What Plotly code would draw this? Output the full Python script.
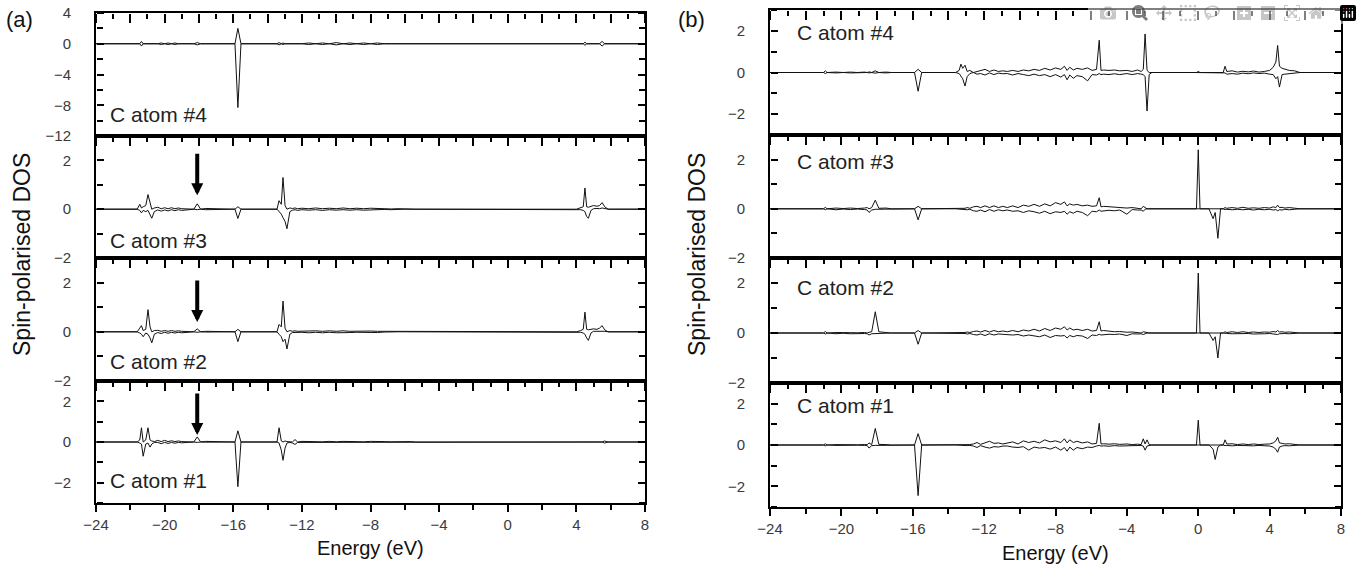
import plotly.graph_objects as go

# ---------------- data ----------------
# panel (a): shared energy grid, eV
energy_a = [-24, -21.6,
            -21.45, -21.35, -21.25, -21.1, -20.97, -20.85, -20.75, -20.6,
            -20.4, -20.2, -20.0, -19.8, -19.6, -19.4, -19.2, -19.0,
            -18.3, -18.1, -17.9, -17.6,
            -15.9, -15.73, -15.55,
            -13.45, -13.33, -13.2, -13.1, -12.98, -12.87, -12.7, -12.55, -12.4, -12.25,
            -12.0, -11.6, -11.2, -10.8, -10.4, -10.0, -9.6, -9.2, -8.8, -8.4, -8.0, -7.6, -7.2, -6.8, -6.4, -6.0, -5.6, -5.4,
            4.0, 4.25, 4.4, 4.5, 4.6, 4.7, 4.85, 5.0, 5.2, 5.35, 5.5, 5.65, 5.85,
            8]

a4_up = [0, 0,
         0, 0.3, 0, 0, 0, 0, 0, 0,
         0, 0.1, 0, 0.1, 0, 0.1, 0, 0,
         0, 0.15, 0, 0,
         0, 2.0, 0,
         0, 0.15, 0, 0.1, 0, 0, 0, 0, 0, 0,
         0, 0.1, 0, 0.1, 0, 0.15, 0, 0.1, 0, 0.1, 0, 0.1, 0, 0, 0, 0, 0, 0,
         0, 0, 0, 0.2, 0, 0, 0, 0, 0, 0, 0.3, 0, 0,
         0]
a4_dn = [0, 0,
         0, -0.3, 0, 0, 0, 0, 0, 0,
         0, -0.1, 0, -0.1, 0, -0.1, 0, 0,
         0, -0.15, 0, 0,
         0, -8.3, 0,
         0, -0.15, 0, -0.1, 0, 0, 0, 0, 0, 0,
         0, -0.1, 0, -0.1, 0, -0.15, 0, -0.1, 0, -0.1, 0, -0.1, 0, 0, 0, 0, 0, 0,
         0, 0, 0, -0.2, 0, 0, 0, 0, 0, 0, -0.3, 0, 0,
         0]

a3_up = [0, 0,
         0.2, 0.05, 0.1, 0.15, 0.6, 0.2, 0.0, 0.05,
         0.08, 0.02, 0.06, 0.02, 0.06, 0.02, 0.05, 0.02,
         0, 0.22, 0, 0.03,
         0, 0.1, 0,
         0, 0.35, 0.2, 1.3, 0.15, 0.0, 0.05, 0.03, 0.05, 0.02,
         0.04, 0.02, 0.05, 0.02, 0.04, 0.02, 0.05, 0.02, 0.04, 0.02, 0.04, 0.02, 0.03, 0.01, 0.02, 0, 0, 0,
         0, 0.05, 0.1, 0.87, 0.1, 0.08, 0.12, 0.15, 0.12, 0.15, 0.27, 0.1, 0,
         0]
a3_dn = [0, 0,
         -0.05, -0.15, -0.05, -0.1, -0.05, -0.2, -0.37, -0.1,
         -0.03, -0.08, -0.03, -0.07, -0.02, -0.06, -0.02, -0.05,
         0, -0.02, 0, -0.02,
         0, -0.38, 0,
         0, -0.1, -0.2, -0.35, -0.5, -0.8, -0.1, -0.04, -0.02, -0.05,
         -0.02, -0.04, -0.02, -0.05, -0.02, -0.04, -0.02, -0.04, -0.02, -0.04, -0.02, -0.03, -0.01, -0.02, 0, 0, 0, 0,
         0, -0.02, -0.05, -0.1, -0.3, -0.37, -0.05, 0.02, 0.03, 0.02, 0.05, 0.02, 0,
         0]

a2_up = [0, 0,
         0.15, 0.25, 0.05, 0.1, 0.9, 0.2, 0.0, 0.05,
         0.06, 0.02, 0.05, 0.02, 0.05, 0.02, 0.04, 0.02,
         0, 0.12, 0, 0.02,
         0, 0.1, 0,
         0, 0.3, 0.2, 1.25, 0.15, 0.0, 0.05, 0.02, 0.04, 0.02,
         0.03, 0.02, 0.04, 0.02, 0.04, 0.02, 0.04, 0.02, 0.03, 0.02, 0.03, 0.02, 0.02, 0.01, 0.02, 0, 0, 0,
         0, 0.05, 0.1, 0.8, 0.1, 0.08, 0.1, 0.12, 0.1, 0.15, 0.25, 0.08, 0,
         0]
a2_dn = [0, 0,
         -0.05, -0.1, -0.2, -0.05, -0.1, -0.25, -0.45, -0.1,
         -0.03, -0.07, -0.02, -0.06, -0.02, -0.05, -0.02, -0.04,
         0, -0.02, 0, -0.01,
         0, -0.4, 0,
         0, -0.1, -0.2, -0.4, -0.3, -0.7, -0.1, -0.03, -0.02, -0.04,
         -0.02, -0.04, -0.02, -0.04, -0.02, -0.04, -0.02, -0.03, -0.02, -0.03, -0.02, -0.03, -0.01, -0.02, 0, 0, 0, 0,
         0, -0.02, -0.05, -0.1, -0.25, -0.35, -0.05, 0.02, 0.02, 0.02, 0.05, 0.02, 0,
         0]

a1_up = [0, 0,
         0.1, 0.7, 0.0, 0.1, 0.7, 0.1, 0.05, 0.02,
         0.08, 0.02, 0.08, 0.02, 0.06, 0.02, 0.05, 0.02,
         0, 0.25, 0, 0.03,
         0, 0.55, 0,
         0, 0.7, 0.05, 0.0, 0.05, 0.02, 0.02, 0.0, 0.12, 0.0,
         0.03, 0.02, 0.03, 0.01, 0.03, 0.01, 0.03, 0.02, 0.03, 0.01, 0.03, 0.01, 0.02, 0.01, 0.02, 0.01, 0.02, 0,
         0, 0, 0, 0, 0, 0, 0, 0, 0, 0, 0, 0.05, 0,
         0]
a1_dn = [0, 0,
         -0.05, -0.1, -0.7, -0.1, -0.05, -0.25, -0.1, -0.02,
         -0.02, -0.08, -0.02, -0.07, -0.02, -0.06, -0.02, -0.04,
         0, -0.02, 0, -0.01,
         0, -2.2, 0,
         0, -0.05, -0.4, -0.9, -0.3, -0.05, -0.02, -0.05, -0.12, -0.02,
         -0.02, -0.03, -0.01, -0.03, -0.01, -0.03, -0.01, -0.03, -0.02, -0.03, -0.01, -0.02, -0.01, -0.02, -0.01, -0.02, 0, 0,
         0, 0, 0, 0, 0, 0, 0, 0, 0, 0, 0, -0.05, 0,
         0]

# panel (b): shared energy grid, eV
energy_b = [-24, -21.2,
            -21.0, -20.9, -20.8, -20.3, -19.9, -19.5, -19.1, -18.7,
            -18.55, -18.45, -18.3, -18.1, -17.9, -17.5, -17.2,
            -15.9, -15.7, -15.5,
            -13.6, -13.4, -13.3, -13.2, -13.07, -12.95, -12.8, -12.6, -12.4, -12.2, -11.95, -11.7, -11.45, -11.2, -10.95,
            -10.7, -10.4, -10.1, -9.8, -9.5, -9.2, -8.9, -8.6, -8.3, -8.0, -7.7, -7.5, -7.35, -7.2, -7.0,
            -6.8, -6.5, -6.2, -5.95, -5.7, -5.55, -5.45, -5.3, -5.0, -4.7, -4.4, -4.0, -3.7, -3.4,
            -3.2, -3.08, -2.98, -2.87, -2.75, -2.6,
            -0.25, -0.1, 0.0, 0.1, 0.25, 0.6, 0.83, 0.95, 1.1, 1.25,
            1.4, 1.5, 1.6, 1.9, 2.2, 2.5, 2.8, 3.1, 3.4, 3.7, 4.0, 4.2, 4.35, 4.45, 4.55, 4.7, 4.85, 5.1, 5.4, 5.7,
            8]

b4_up = [0, 0,
         0, 0.08, 0, 0.02, 0, 0.02, 0, 0.02,
         0, 0.03, 0, 0.08, 0, 0.02, 0,
         0, 0.15, 0,
         0, 0.1, 0.4, 0.2, 0.35, 0.05, 0.1, 0, 0.05, 0.1, 0.15, 0.05, 0.12, 0.05, 0.08,
         0.05, 0.1, 0.05, 0.12, 0.08, 0.15, 0.1, 0.2, 0.12, 0.22, 0.15, 0.3, 0.1, 0.25, 0.12,
         0.2, 0.15, 0.22, 0.1, 0.15, 1.55, 0.1, 0.12, 0.1, 0.12, 0.08, 0.1, 0.05, 0.12,
         0.05, 0.15, 1.85, 0.1, 0, 0,
         0, 0, 0.05, 0, 0, 0, 0, 0, 0, 0,
         0, 0.3, 0.05, 0.08, 0.02, 0.06, 0.03, 0.07, 0.02, 0.05, 0.1, 0.25, 0.5, 1.3, 0.3, 0.2, 0.15, 0.1, 0.08, 0,
         0]
b4_dn = [0, 0,
         0, -0.05, 0, -0.02, 0, -0.02, 0, -0.01,
         0, -0.02, 0, -0.03, 0, -0.02, 0,
         0, -0.9, 0,
         0, -0.05, -0.2, -0.3, -0.65, -0.2, -0.05, 0, -0.08, -0.05, -0.12, -0.02, -0.1, -0.03, -0.06,
         -0.05, -0.12, -0.05, -0.1, -0.15, -0.08, -0.15, -0.1, -0.2, -0.1, -0.22, -0.1, -0.35, -0.12, -0.28,
         -0.15, -0.2, -0.4, -0.1, -0.12, -0.05, -0.1, -0.08, -0.1, -0.06, -0.1, -0.05, -0.1, -0.05,
         -0.08, -0.1, -0.2, -1.85, -0.1, 0,
         0, 0, 0, 0, 0, 0, 0, 0, 0, 0,
         0, -0.02, -0.08, -0.05, -0.08, -0.03, -0.06, -0.02, -0.05, -0.03, -0.08, -0.1, -0.3, -0.2, -0.7, -0.1, -0.08, -0.05, -0.04, 0,
         0]

b3_up = [0, 0,
         0, 0.06, 0, 0.03, 0.01, 0.03, 0.01, 0.03,
         0.05, 0.0, 0.05, 0.35, 0.02, 0.03, 0,
         0, 0.1, 0,
         0, 0.02, 0, 0.03, 0.02, 0.05, 0.02, 0.08, 0.1, 0.05, 0.12, 0.05, 0.12, 0.05, 0.1,
         0.05, 0.12, 0.05, 0.15, 0.1, 0.18, 0.1, 0.2, 0.12, 0.25, 0.18, 0.28, 0.12, 0.2, 0.15,
         0.18, 0.12, 0.15, 0.1, 0.12, 0.45, 0.08, 0.1, 0.08, 0.06, 0.05, 0.03, 0.05, 0.02,
         0, 0.1, 0.05, 0, 0, 0,
         0, 0, 2.4, 0, 0, 0, 0, 0, 0, 0,
         0, 0.05, 0.02, 0.05, 0.02, 0.06, 0.02, 0.04, 0.02, 0.05, 0.03, 0.08, 0.05, 0.15, 0.05, 0.06, 0.03, 0.05, 0.02, 0,
         0]
b3_dn = [0, 0,
         0, -0.04, 0, -0.04, -0.01, -0.03, -0.01, -0.03,
         -0.05, -0.15, -0.05, -0.02, -0.02, -0.02, 0,
         0, -0.45, 0,
         0, -0.02, 0, -0.02, -0.03, -0.04, -0.02, -0.08, -0.1, -0.05, -0.12, -0.03, -0.1, -0.04, -0.08,
         -0.05, -0.1, -0.08, -0.15, -0.08, -0.12, -0.18, -0.1, -0.2, -0.12, -0.15, -0.1, -0.22, -0.12, -0.18,
         -0.1, -0.15, -0.28, -0.1, -0.12, -0.05, -0.1, -0.08, -0.06, -0.08, -0.05, -0.22, -0.03, -0.05,
         -0.05, -0.1, -0.02, 0, 0, 0,
         0, 0, 0, 0, 0, 0, -0.4, -0.15, -1.2, 0,
         0, -0.03, -0.02, -0.04, -0.02, -0.04, -0.02, -0.05, -0.02, -0.04, -0.02, -0.05, -0.03, -0.08, -0.04, -0.05, -0.02, -0.04, -0.02, 0,
         0]

b2_up = [0, 0,
         0, 0.06, 0, 0.02, 0.01, 0.02, 0.01, 0.02,
         0, 0.03, 0.05, 0.85, 0.05, 0.02, 0,
         0, 0.1, 0,
         0, 0.02, 0, 0.02, 0.02, 0.04, 0.02, 0.06, 0.08, 0.04, 0.1, 0.04, 0.1, 0.05, 0.08,
         0.05, 0.1, 0.05, 0.12, 0.08, 0.15, 0.08, 0.18, 0.1, 0.2, 0.15, 0.25, 0.12, 0.2, 0.12,
         0.15, 0.1, 0.15, 0.08, 0.1, 0.45, 0.08, 0.1, 0.06, 0.05, 0.06, 0.03, 0.04, 0.02,
         0, 0.05, 0.03, 0, 0, 0,
         0, 0, 2.4, 0, 0, 0, 0, 0, 0, 0,
         0, 0.05, 0.02, 0.05, 0.02, 0.05, 0.02, 0.04, 0.02, 0.04, 0.03, 0.06, 0.04, 0.1, 0.04, 0.05, 0.03, 0.04, 0.02, 0,
         0]
b2_dn = [0, 0,
         0, -0.04, 0, -0.03, -0.01, -0.03, -0.01, -0.02,
         -0.03, -0.08, -0.03, -0.02, -0.02, -0.02, 0,
         0, -0.45, 0,
         0, -0.02, 0, -0.02, -0.02, -0.04, -0.02, -0.06, -0.08, -0.04, -0.1, -0.03, -0.08, -0.04, -0.06,
         -0.05, -0.08, -0.06, -0.12, -0.08, -0.1, -0.15, -0.08, -0.18, -0.1, -0.12, -0.1, -0.2, -0.1, -0.15,
         -0.1, -0.12, -0.22, -0.08, -0.1, -0.05, -0.08, -0.06, -0.05, -0.06, -0.04, -0.1, -0.03, -0.04,
         -0.03, -0.06, -0.02, 0, 0, 0,
         0, 0, 0, 0, 0, 0, -0.3, -0.15, -1.0, 0,
         0, -0.02, -0.02, -0.03, -0.02, -0.03, -0.02, -0.04, -0.02, -0.03, -0.02, -0.04, -0.03, -0.06, -0.03, -0.04, -0.02, -0.03, -0.02, 0,
         0]

b1_up = [0, 0,
         0, 0.06, 0, 0.02, 0.01, 0.02, 0.01, 0.02,
         0.02, 0.1, 0.02, 0.8, 0.03, 0.02, 0,
         0, 0.55, 0,
         0, 0.02, 0, 0.02, 0.02, 0.03, 0.02, 0.05, 0.12, 0.03, 0.1, 0.18, 0.08, 0.1, 0.05,
         0.08, 0.15, 0.05, 0.2, 0.12, 0.18, 0.1, 0.25, 0.15, 0.2, 0.12, 0.3, 0.1, 0.25, 0.12,
         0.18, 0.1, 0.15, 0.05, 0.08, 1.05, 0.05, 0.06, 0.04, 0.06, 0.03, 0.05, 0.02, 0.04,
         0.02, 0.3, 0.05, 0.25, 0.02, 0,
         0, 0, 1.2, 0, 0, 0, 0, 0, 0, 0,
         0, 0.25, 0.05, 0.06, 0.02, 0.05, 0.02, 0.05, 0.02, 0.04, 0.05, 0.1, 0.2, 0.38, 0.1, 0.08, 0.05, 0.06, 0.03, 0,
         0]
b1_dn = [0, 0,
         0, -0.04, 0, -0.02, -0.01, -0.02, -0.01, -0.02,
         -0.03, -0.15, -0.03, -0.02, -0.02, -0.02, 0,
         0, -2.45, 0,
         0, -0.02, 0, -0.02, -0.02, -0.03, -0.02, -0.05, -0.12, -0.03, -0.1, -0.15, -0.08, -0.1, -0.05,
         -0.05, -0.1, -0.12, -0.08, -0.25, -0.1, -0.15, -0.12, -0.2, -0.1, -0.25, -0.12, -0.3, -0.1, -0.25,
         -0.12, -0.18, -0.1, -0.12, -0.05, -0.02, -0.05, -0.04, -0.06, -0.03, -0.05, -0.03, -0.04, -0.02,
         -0.02, -0.05, -0.25, -0.05, -0.02, 0,
         0, 0, 0, 0, 0, 0, -0.2, -0.7, -0.1, 0,
         0, -0.03, -0.02, -0.04, -0.02, -0.03, -0.02, -0.04, -0.02, -0.03, -0.05, -0.1, -0.2, -0.35, -0.1, -0.05, -0.03, -0.04, -0.02, 0,
         0]

atom_labels = ["C atom #4", "C atom #3", "C atom #2", "C atom #1"]

for arr in (a4_up, a4_dn, a3_up, a3_dn, a2_up, a2_dn, a1_up, a1_dn):
    assert len(arr) == len(energy_a), len(arr)
for arr in (b4_up, b4_dn, b3_up, b3_dn, b2_up, b2_dn, b1_up, b1_dn):
    assert len(arr) == len(energy_b), len(arr)

# ---------------- layout helpers ----------------
W, H = 1362, 569
FONT = "Arial, Liberation Sans, sans-serif"


def px_x(p):
    return p / W


def px_y(p):
    return 1 - p / H


panels = [
    dict(energy=energy_a, x0=96, x1=645,
         rows=[(a4_up, a4_dn, [-12, 4], 4, 13, 136, 115),
               (a3_up, a3_dn, [-2, 3], 2, 136, 258, 240),
               (a2_up, a2_dn, [-2, 3], 2, 258, 381, 361),
               (a1_up, a1_dn, [-3, 3], 2, 381, 503, 480)],
         lbl_x=108, tag="(a)", tag_x=4, title_x=22, energy_y=548),
    dict(energy=energy_b, x0=770, x1=1341,
         rows=[(b4_up, b4_dn, [-3, 3], 2, 10, 135, 32),
               (b3_up, b3_dn, [-2, 3], 2, 135, 258, 162),
               (b2_up, b2_dn, [-2, 3], 2, 258, 383, 287),
               (b1_up, b1_dn, [-3, 3], 2, 383, 507, 405)],
         lbl_x=795, tag="(b)", tag_x=676, title_x=697, energy_y=553),
]

fig = go.Figure()
layout = {}
annotations = []
n = 0
TICK = dict(tickwidth=2, tickcolor="black", showgrid=False, zeroline=False)


def ghost(xa, ya):
    # invisible trace so that an extra tick-only axis gets drawn
    fig.add_trace(go.Scatter(x=[-24], y=[0], mode="markers", marker=dict(opacity=0),
                             xaxis=xa, yaxis=ya, showlegend=False, hoverinfo="skip"))


for pi, p in enumerate(panels):
    xd = [px_x(p["x0"]), px_x(p["x1"])]
    for ri, (up, dn, yr, dt, ytop, ybot, lbl_y) in enumerate(p["rows"]):
        n += 1
        xa, ya = f"x{n}", f"y{n}"
        yd = [px_y(ybot), px_y(ytop)]
        for vals in (up, dn):
            fig.add_trace(go.Scatter(x=p["energy"], y=vals, mode="lines",
                                     line=dict(color="#111111", width=1),
                                     xaxis=xa, yaxis=ya, showlegend=False,
                                     hoverinfo="skip"))
        # frame + y labels
        layout[f"xaxis{n}"] = dict(domain=xd, anchor=ya, range=[-24, 8], side="top", ticks="",
                                   showticklabels=False, showline=True, linewidth=2,
                                   linecolor="black", mirror=True, showgrid=False, zeroline=False)
        layout[f"yaxis{n}"] = dict(domain=yd, anchor=xa, range=yr, dtick=dt, ticks="",
                                   showline=True, linewidth=2, linecolor="black", mirror=True,
                                   showgrid=False, zeroline=False, ticklabelstandoff=20,
                                   tickfont=dict(family=FONT, size=15, color="#3a3a3a"))
        # top ticks pointing into the panel
        xt = 10 + n
        layout[f"xaxis{xt}"] = dict(overlaying=xa, anchor="free", position=yd[1], side="bottom",
                                    range=[-24, 8], dtick=2, ticks="outside", ticklen=9,
                                    minor=dict(ticks="outside", dtick=1, ticklen=5),
                                    showticklabels=False, showline=False, **TICK)
        ghost(f"x{xt}", ya)
        # left / right ticks pointing into the panel
        for k, (pos, side) in enumerate(((xd[0], "right"), (xd[1], "left"))):
            yid = 8 + n + 8 * k
            layout[f"yaxis{yid}"] = dict(overlaying=ya, anchor="free", position=pos, side=side,
                                         range=yr, dtick=dt, ticks="outside", ticklen=7,
                                         minor=dict(ticks="outside", dtick=dt / 2, ticklen=6),
                                         showticklabels=False, showline=False, **TICK)
            ghost(xa, f"y{yid}")
        annotations.append(dict(text=atom_labels[ri], xref="paper", yref="paper",
                                x=px_x(p["lbl_x"]), y=px_y(lbl_y), xanchor="left", yanchor="middle",
                                showarrow=False, font=dict(family=FONT, size=21, color="#222222")))
        last = n

    # bottom energy axis with labels
    bx = 9 + pi
    layout[f"xaxis{bx}"] = dict(
        overlaying=f"x{last}", anchor=f"y{last}", side="bottom", range=[-24, 8],
        dtick=4, ticks="outside", ticklen=7, minor=dict(ticks="outside", dtick=2, ticklen=5),
        showline=True, linewidth=2, linecolor="black",
        tickfont=dict(family=FONT, size=15, color="#3a3a3a"), **TICK)
    ghost(f"x{bx}", f"y{last}")

    annotations.append(dict(text="Energy (eV)", xref="paper", yref="paper",
                            x=px_x((p["x0"] + p["x1"]) / 2), y=px_y(p["energy_y"]),
                            xanchor="center", yanchor="middle", showarrow=False,
                            font=dict(family=FONT, size=20, color="#111111")))
    annotations.append(dict(text="Spin-polarised DOS", xref="paper", yref="paper",
                            x=px_x(p["title_x"]), y=px_y(255), textangle=-90,
                            xanchor="center", yanchor="middle", showarrow=False,
                            font=dict(family=FONT, size=23, color="#111111")))
    annotations.append(dict(text=p["tag"], xref="paper", yref="paper",
                            x=px_x(p["tag_x"]), y=px_y(20), xanchor="left", yanchor="middle",
                            showarrow=False, font=dict(family=FONT, size=22, color="#111111")))

# arrows marking the -18.1 eV feature in panel (a)
for ax_i, tip in ((2, 0.57), (3, 0.4), (4, 0.35)):
    annotations.append(dict(x=-18.1, y=tip, xref=f"x{ax_i}", yref=f"y{ax_i}",
                            ax=0, ay=-43, showarrow=True, arrowhead=2, arrowsize=0.6,
                            arrowwidth=4, arrowcolor="black", text=""))

fig.update_layout(template="none", width=W, height=H, margin=dict(l=0, r=0, t=0, b=0),
                  plot_bgcolor="white", paper_bgcolor="white",
                  annotations=annotations, **layout)

fig.write_html("out.html", post_script="document.body.style.margin='0px';")
